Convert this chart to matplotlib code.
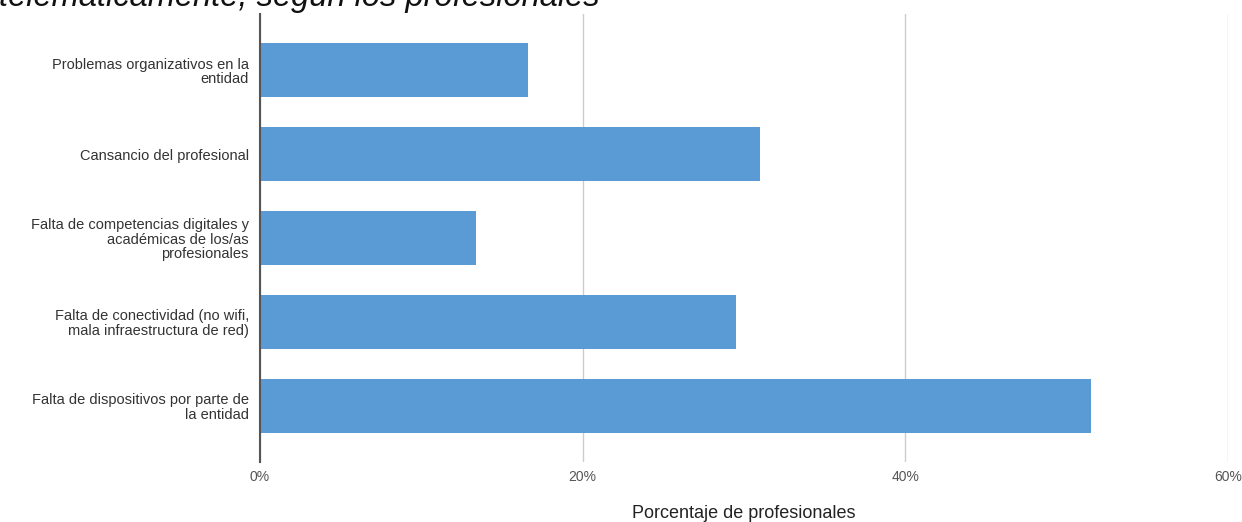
import matplotlib.pyplot as plt
from matplotlib.ticker import PercentFormatter

plt.rcParams['font.family'] = ['Liberation Sans', 'DejaVu Sans']

categorias = [
    'Problemas organizativos en la\nentidad',
    'Cansancio del profesional',
    'Falta de competencias digitales y\nacadémicas de los/as\nprofesionales',
    'Falta de conectividad (no wifi,\nmala infraestructura de red)',
    'Falta de dispositivos por parte de\nla entidad',
]
porcentajes = [16.6, 31.0, 13.4, 29.5, 51.5]
ticks_x = [0, 20, 40, 60]
titulo = 'telemáticamente, según los profesionales'

fig = plt.figure(figsize=(12.42, 5.22), dpi=100)
ax = fig.add_axes([260 / 1242, 60 / 522, 968 / 1242, 448 / 522])

pos = list(range(len(categorias)))
ax.barh(pos, porcentajes, height=0.645, color='#5b9bd5', zorder=3)

ax.set_ylim(4.67, -0.67)
ax.set_xlim(0, 60)
ax.set_xticks(ticks_x)
ax.xaxis.set_major_formatter(PercentFormatter(decimals=0))
ax.set_yticks(pos)
ax.set_yticklabels(categorias, fontsize=10.5, color='#333333', linespacing=1.05)

ax.grid(axis='x', color='#cccccc', linewidth=1, zorder=0)
for s in ['top', 'right', 'bottom']:
    ax.spines[s].set_visible(False)
ax.spines['left'].set_color('#555555')
ax.spines['left'].set_linewidth(1.5)
ax.spines['left'].set_zorder(4)
ax.tick_params(axis='y', length=0, pad=8)
ax.tick_params(axis='x', length=0, pad=6, labelsize=10, labelcolor='#555555')

ax.set_xlabel('Porcentaje de profesionales', fontsize=13, color='#222222', labelpad=15)

# el título aparece recortado en la parte superior, como en el original
fig.text(-0.001, 1 - 6 / 522, titulo, fontsize=23.5, fontstyle='italic',
         color='#111111', ha='left', va='baseline')

fig.savefig('out.png', dpi=100)
